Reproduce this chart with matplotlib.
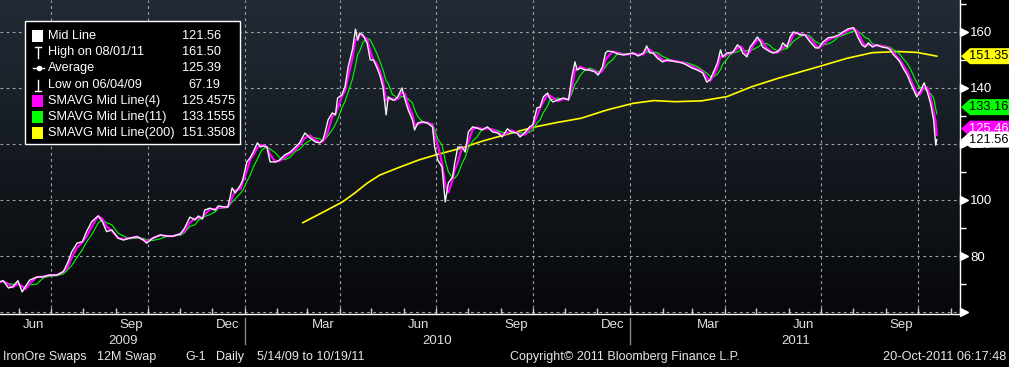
import numpy as np
import pandas as pd
import matplotlib
matplotlib.use("Agg")
import matplotlib.pyplot as plt
import matplotlib.dates as mdates
from matplotlib import transforms
from matplotlib.patches import Polygon, Rectangle

plt.rcParams['font.family'] = ['Liberation Sans', 'DejaVu Sans']

# ---------------- data ----------------
dates = [
    "2009-05-14", "2009-05-17", "2009-05-22", "2009-05-26", "2009-05-31", "2009-06-04", "2009-06-07",
    "2009-06-11", "2009-06-18", "2009-06-24", "2009-06-30", "2009-07-07", "2009-07-13", "2009-07-17",
    "2009-07-21", "2009-07-26", "2009-07-31", "2009-08-04", "2009-08-09", "2009-08-15", "2009-08-19",
    "2009-08-23", "2009-08-28", "2009-09-03", "2009-09-08", "2009-09-14", "2009-09-21", "2009-09-27",
    "2009-09-30", "2009-10-06", "2009-10-13", "2009-10-19", "2009-10-25", "2009-11-01", "2009-11-05",
    "2009-11-10", "2009-11-15", "2009-11-18", "2009-11-22", "2009-11-24", "2009-11-29", "2009-12-04",
    "2009-12-07", "2009-12-13", "2009-12-16", "2009-12-20", "2009-12-23", "2009-12-28", "2009-12-30",
    "2010-01-03", "2010-01-06", "2010-01-09", "2010-01-13", "2010-01-16", "2010-01-18", "2010-01-22",
    "2010-01-25", "2010-01-30", "2010-02-03", "2010-02-08", "2010-02-13", "2010-02-18", "2010-02-22",
    "2010-02-27", "2010-03-04", "2010-03-09", "2010-03-13", "2010-03-16", "2010-03-18", "2010-03-21",
    "2010-03-25", "2010-03-28", "2010-03-30", "2010-04-03", "2010-04-06", "2010-04-09", "2010-04-13",
    "2010-04-16", "2010-04-18", "2010-04-20", "2010-04-23", "2010-04-27", "2010-04-30", "2010-05-03",
    "2010-05-06", "2010-05-09", "2010-05-12", "2010-05-15", "2010-05-17", "2010-05-21", "2010-05-23",
    "2010-05-26", "2010-05-30", "2010-06-02", "2010-06-05", "2010-06-09", "2010-06-11", "2010-06-14",
    "2010-06-18", "2010-06-23", "2010-06-28", "2010-06-30", "2010-07-03", "2010-07-07", "2010-07-10",
    "2010-07-13", "2010-07-17", "2010-07-19", "2010-07-22", "2010-07-26", "2010-07-29", "2010-08-01",
    "2010-08-05", "2010-08-09", "2010-08-14", "2010-08-19", "2010-08-24", "2010-08-29", "2010-09-02",
    "2010-09-07", "2010-09-11", "2010-09-16", "2010-09-19", "2010-09-24", "2010-09-28", "2010-10-01",
    "2010-10-05", "2010-10-08", "2010-10-11", "2010-10-15", "2010-10-17", "2010-10-20", "2010-10-25",
    "2010-10-30", "2010-11-04", "2010-11-07", "2010-11-10", "2010-11-12", "2010-11-15", "2010-11-20",
    "2010-11-24", "2010-11-29", "2010-12-02", "2010-12-06", "2010-12-09", "2010-12-11", "2010-12-16",
    "2010-12-21", "2010-12-26", "2010-12-30", "2011-01-04", "2011-01-09", "2011-01-14", "2011-01-17",
    "2011-01-20", "2011-01-23", "2011-01-27", "2011-02-01", "2011-02-05", "2011-02-10", "2011-02-15",
    "2011-02-20", "2011-02-24", "2011-03-01", "2011-03-06", "2011-03-11", "2011-03-15", "2011-03-18",
    "2011-03-21", "2011-03-25", "2011-03-28", "2011-03-30", "2011-04-03", "2011-04-06", "2011-04-09",
    "2011-04-13", "2011-04-16", "2011-04-18", "2011-04-22", "2011-04-25", "2011-04-28", "2011-05-02",
    "2011-05-05", "2011-05-07", "2011-05-11", "2011-05-14", "2011-05-17", "2011-05-21", "2011-05-24",
    "2011-05-26", "2011-05-30", "2011-06-02", "2011-06-05", "2011-06-09", "2011-06-11", "2011-06-16",
    "2011-06-21", "2011-06-26", "2011-06-29", "2011-07-03", "2011-07-08", "2011-07-13", "2011-07-18",
    "2011-07-22", "2011-07-27", "2011-08-01", "2011-08-03", "2011-08-05", "2011-08-09", "2011-08-12",
    "2011-08-15", "2011-08-19", "2011-08-23", "2011-08-28", "2011-09-02", "2011-09-05", "2011-09-08",
    "2011-09-11", "2011-09-14", "2011-09-17", "2011-09-21", "2011-09-24", "2011-09-27", "2011-09-30",
    "2011-10-03", "2011-10-07", "2011-10-10", "2011-10-13", "2011-10-16", "2011-10-18", "2011-10-19",
]
mid_line = [
    70.8, 71.2, 68.6, 69.0, 71.2, 67.19, 69.0,
    71.4, 72.5, 72.6, 73.2, 73.2, 74.4, 77.5,
    81.5, 84.6, 85.1, 88.7, 92.3, 94.3, 92.3,
    88.7, 89.3, 86.4, 85.7, 86.4, 86.9, 85.7,
    84.6, 86.4, 87.5, 87.1, 87.1, 87.9, 90.0,
    93.9, 92.9, 94.3, 93.2, 96.4, 97.1, 96.4,
    97.9, 97.5, 97.5, 104.3, 102.5, 105.4, 107.1,
    113.6, 115.0, 117.1, 120.4, 118.9, 119.3, 118.9,
    113.6, 113.6, 114.3, 116.1, 117.1, 118.9, 120.4,
    123.9, 122.1, 120.7, 120.4, 121.4, 123.9, 128.6,
    131.1, 130.4, 136.4, 137.5, 140.4, 147.5, 153.6,
    161.0, 157.1, 159.6, 158.9, 156.0, 150.0, 150.0,
    147.5, 144.6, 140.4, 130.4, 136.8, 135.7, 135.7,
    136.8, 140.0, 135.7, 132.1, 128.6, 125.0, 127.5,
    127.9, 127.5, 126.1, 118.9, 114.3, 111.8, 99.3,
    106.1, 108.2, 113.2, 118.9, 118.9, 117.1, 124.3,
    126.1, 125.7, 125.0, 126.1, 124.3, 123.9, 122.5,
    125.4, 124.3, 123.9, 122.5, 124.3, 126.1, 126.8,
    132.9, 133.2, 136.8, 138.2, 136.4, 135.0, 135.7,
    136.4, 135.7, 143.9, 149.3, 146.4, 147.1, 146.4,
    146.4, 145.7, 144.6, 147.5, 152.5, 153.2, 152.9,
    152.1, 151.8, 152.1, 152.5, 151.4, 152.5, 155.0,
    152.5, 152.5, 150.7, 149.3, 150.0, 149.6, 149.3,
    148.9, 148.2, 147.1, 146.4, 145.4, 142.1, 142.9,
    145.4, 148.9, 153.6, 151.1, 152.5, 152.5, 152.9,
    155.4, 154.3, 152.5, 151.1, 154.6, 156.1, 158.2,
    156.4, 154.6, 153.6, 152.9, 152.5, 152.9, 154.3,
    156.1, 154.6, 158.2, 160.0, 159.5, 159.0, 158.9,
    156.4, 154.3, 154.3, 156.4, 157.9, 158.2, 158.9,
    160.0, 161.1, 161.5, 160.0, 158.2, 155.4, 154.6,
    156.1, 154.6, 155.4, 154.6, 154.3, 153.6, 151.8,
    150.7, 149.3, 147.1, 144.6, 141.8, 139.3, 136.8,
    138.6, 141.8, 138.6, 134.6, 128.6, 119.6, 121.56,
]

# 200-day moving average
sma200_dates = [
    "2010-02-25", "2010-03-17", "2010-04-04", "2010-04-15", "2010-04-27", "2010-05-09", "2010-05-25",
    "2010-06-15", "2010-07-01", "2010-07-25", "2010-08-15", "2010-09-04", "2010-10-02", "2010-10-23",
    "2010-11-16", "2010-12-10", "2011-01-04", "2011-01-24", "2011-02-13", "2011-03-10", "2011-04-03",
    "2011-04-27", "2011-05-22", "2011-06-29", "2011-07-26", "2011-08-19", "2011-09-12", "2011-09-30",
    "2011-10-19",
]
sma200_values = [
    91.9, 95.8, 99.4, 102.4, 106.0, 108.9, 111.3,
    114.3, 116.1, 118.5, 121.1, 123.2, 126.0, 127.6,
    129.2, 132.1, 134.5, 135.5, 135.1, 135.4, 136.9,
    140.5, 143.5, 147.6, 150.6, 152.6, 153.0, 152.7,
    151.35,
]

legend_labels = ["Mid Line", "High on 08/01/11", "Average", "Low on 06/04/09",
                 "SMAVG Mid Line(4)", "SMAVG Mid Line(11)", "SMAVG Mid Line(200)"]
legend_values = ["121.56", "161.50", "125.39", "67.19", "125.4575", "133.1555", "151.3508"]

tag_values = [151.35, 133.16, 125.46, 121.56]
tag_labels = ["151.35", "133.16", "125.46", "121.56"]

y_ticks = [60, 80, 100, 120, 140, 160]
y_labels = ["", "80", "100", "120", "140", "160"]
y_minor = [70, 90, 110, 130, 150, 170]

month_labels = ["Jun", "Sep", "Dec", "Mar", "Jun", "Sep", "Dec", "Mar", "Jun", "Sep"]
month_label_dates = ["2009-06-15", "2009-09-15", "2009-12-16", "2010-03-16", "2010-06-15",
                     "2010-09-15", "2010-12-16", "2011-03-16", "2011-06-15", "2011-09-15"]
year_labels = ["2009", "2010", "2011"]
year_centers = ["2009-09-08", "2010-07-02", "2011-06-07"]
year_breaks = ["2010-01-01", "2011-01-01"]
quarter_grid = ["2009-07-01", "2009-10-01", "2010-01-01", "2010-04-01", "2010-07-01",
                "2010-10-01", "2011-01-01", "2011-04-01", "2011-07-01", "2011-10-01"]

# ---------------- series (short trading-day windows expressed in calendar days) ----------------
s = pd.Series(mid_line, index=pd.to_datetime(dates))
sma4 = s.rolling('6D').mean()
sma11 = s.rolling('15D').mean()
sma200 = pd.Series(sma200_values, index=pd.to_datetime(sma200_dates))


def dn(d):
    return mdates.date2num(pd.Timestamp(d))


W, H = 1009, 367
fig = plt.figure(figsize=(W / 100, H / 100), dpi=100, facecolor='black')
ax = fig.add_axes([0, 53 / H, 960 / W, 314 / H])
ax.set_facecolor('black')

# gradient background
grad = np.linspace(0, 1, 256).reshape(-1, 1)
top = np.array([0x22, 0x2b, 0x36]) / 255
bot = np.array([0x07, 0x08, 0x0a]) / 255
img = (top[None, None, :] * (1 - grad[..., None]) + bot[None, None, :] * grad[..., None])
ax.imshow(img, extent=[0, 1, 0, 1], transform=ax.transAxes, aspect='auto', zorder=0)

ax.set_xlim(dn("2009-05-14"), dn("2011-11-10"))
ax.set_ylim(59.3, 171.4)

gridc = '#a0a4a8'
for y in y_ticks:
    ax.axhline(y, color=gridc, lw=0.8, ls=(0, (2.5, 3)), zorder=1)
for d in quarter_grid:
    ax.axvline(dn(d), color=gridc, lw=0.8, ls=(0, (2.5, 3)), zorder=1)

ax.plot(mdates.date2num(sma200.index), sma200.values, color='#ffff00', lw=1.2, zorder=3)
ax.plot(mdates.date2num(sma11.index), sma11.values, color='#00ff00', lw=0.8, zorder=4)
ax.plot(mdates.date2num(sma4.index), sma4.values, color='#ff00ff', lw=1.6, zorder=5)
ax.plot(mdates.date2num(s.index), s.values, color='#f2f2f2', lw=1.0, zorder=6)

# spines
for sp in ['left', 'top']:
    ax.spines[sp].set_visible(False)
for sp in ['right', 'bottom']:
    ax.spines[sp].set_color('white')
    ax.spines[sp].set_linewidth(1.0)

# y axis on right
ax.yaxis.tick_right()
ax.set_yticks(y_ticks)
ax.set_yticklabels(y_labels)
ax.set_yticks(y_minor, minor=True)
ax.tick_params(axis='y', which='major', length=0, pad=7.5, labelsize=9.5, labelcolor='white')
ax.tick_params(axis='y', which='minor', length=4, color='white', width=1)
arrow_tr = ax.get_yaxis_transform() + transforms.ScaledTranslation(4 / 100, 0, fig.dpi_scale_trans)
ax.plot([1.0] * len(y_ticks), y_ticks, ls='none', marker='>', ms=6, color='white',
        transform=arrow_tr, clip_on=False, zorder=10)

# x axis
month_starts = mdates.date2num(pd.date_range("2009-06-01", "2011-11-01", freq='MS'))
ax.set_xticks(month_starts)
ax.set_xticklabels([])
ax.tick_params(axis='x', which='major', direction='in', length=4, color='#cccccc', width=1)

xtr = transforms.blended_transform_factory(ax.transData, fig.transFigure)
for lab, d in zip(month_labels, month_label_dates):
    fig.text(dn(d), 1 - 325 / H, lab, transform=xtr, ha='center', va='center',
             color='#e0e0e0', fontsize=9.5)
for lab, d in zip(year_labels, year_centers):
    fig.text(dn(d), 1 - 341 / H, lab, transform=xtr, ha='center', va='center',
             color='#e0e0e0', fontsize=9.5)
for d in year_breaks:
    fig.add_artist(plt.Line2D([dn(d)] * 2, [1 - 318 / H, 1 - 344 / H], transform=xtr,
                              color='#888888', lw=1))


def fx(x):
    return x / W


# bottom info row
yb = 1 - 357 / H
info = [("IronOre Swaps", 3), ("12M Swap", 97), ("G-1", 185), ("Daily", 216), ("5/14/09 to 10/19/11", 257),
        ("Copyright\u00a9 2011 Bloomberg Finance L.P.", 510)]
for t, x in info:
    fig.text(fx(x), yb, t, color='#e6e6e6', fontsize=9, ha='left', va='center')
fig.text(fx(1006), yb, "20-Oct-2011 06:17:48", color='#e6e6e6', fontsize=9.2, ha='right', va='center')

# legend box
fig.add_artist(Rectangle((fx(25), 1 - 144 / H), (240 - 25) / W, (144 - 21) / H, transform=fig.transFigure,
                         facecolor='black', edgecolor='white', lw=1.0, zorder=20))
swatch = {0: '#ffffff', 4: '#ff00ff', 5: '#00ff00', 6: '#ffff00'}
for i, (lab, val) in enumerate(zip(legend_labels, legend_values)):
    yc = 36 + i * 16.2
    yf = 1 - yc / H
    if i in swatch:
        fig.add_artist(Rectangle((fx(32), 1 - (yc + 6) / H), 11 / W, 12 / H, transform=fig.transFigure,
                                 facecolor=swatch[i], edgecolor='none', zorder=21))
    elif i == 1:
        fig.add_artist(plt.Line2D([fx(38), fx(38)], [1 - (yc + 6) / H, 1 - (yc - 5) / H], color='white', lw=1, zorder=21))
        fig.add_artist(plt.Line2D([fx(35), fx(41)], [1 - (yc - 5) / H] * 2, color='white', lw=1, zorder=21))
    elif i == 2:
        fig.add_artist(plt.Line2D([fx(33), fx(44)], [yf, yf], color='white', lw=1, zorder=21))
        fig.add_artist(plt.Line2D([fx(38.5)], [yf], color='white', marker='o', ms=3, zorder=21))
    elif i == 3:
        fig.add_artist(plt.Line2D([fx(38), fx(38)], [1 - (yc + 6) / H, 1 - (yc - 5) / H], color='white', lw=1, zorder=21))
        fig.add_artist(plt.Line2D([fx(35), fx(41)], [1 - (yc + 6) / H] * 2, color='white', lw=1, zorder=21))
    fig.text(fx(48), yf, lab, color='white', fontsize=9.2, ha='left', va='center', zorder=22)
    fig.text(fx(188 if val == "67.19" else 182), yf, val, color='white', fontsize=9.2, ha='left', va='center', zorder=22)

# value tags on right
ttr = transforms.blended_transform_factory(fig.transFigure, ax.transData)
half = 8 / 2.8
tag_face = ['#ffff00', '#00ff00', '#ff00ff', '#ffffff']
tag_text = ['black', 'black', 'white', 'black']
for v, lab, fc, tc in zip(tag_values, tag_labels, tag_face, tag_text):
    poly = Polygon([(fx(961), v), (fx(970), v + half), (fx(1009), v + half), (fx(1009), v - half),
                    (fx(970), v - half)], closed=True, transform=ttr, facecolor=fc, edgecolor='none',
                   zorder=30, clip_on=False)
    fig.add_artist(poly)
    fig.text(fx(969), v, lab, transform=ttr, color=tc, fontsize=9.3, ha='left', va='center', zorder=31)

fig.savefig('out.png', dpi=100, facecolor='black')
